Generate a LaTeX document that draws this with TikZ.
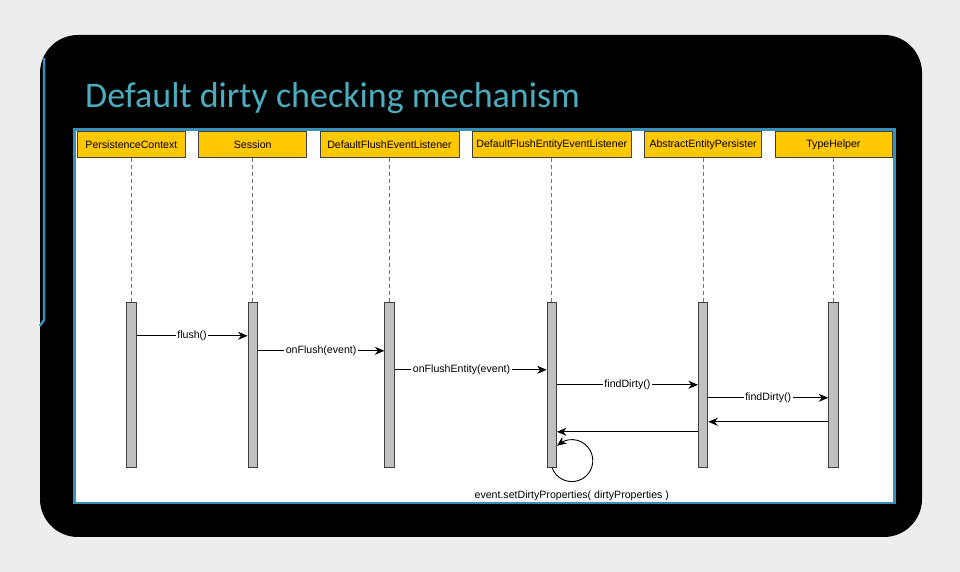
\documentclass[tikz,border=0pt]{standalone}
\usepackage{fontspec}
\setmainfont{Liberation Sans}
\newfontfamily\titlefont{Carlito}
\usetikzlibrary{positioning}
\usetikzlibrary{arrows.meta}
\usetikzlibrary{bending}
\definecolor{slidebg}{RGB}{237,237,237}
\definecolor{titleteal}{RGB}{75,172,190}
\definecolor{frameblue}{RGB}{58,143,183}
\definecolor{actoryellow}{RGB}{255,200,0}
\definecolor{bargray}{RGB}{192,192,192}

\tikzset{
  actor/.style={rectangle, draw=black!75, fill=actoryellow, line width=0.8pt,
    minimum height=26pt, inner sep=0pt, font=\fontsize{10.6}{12}\selectfont},
  lifeline/.style={draw=black!55, dash pattern=on 4pt off 3pt, line width=0.8pt},
  bar/.style={rectangle, draw=black!75, fill=bargray, line width=0.8pt,
    minimum width=9.5pt, minimum height=165pt, inner sep=0pt},
  msg/.style={draw=black, line width=0.9pt, -{Stealth[length=9.5pt,width=8pt,inset=3pt]}},
  lbl/.style={fill=white, inner sep=1.5pt, font=\fontsize{10.6}{12}\selectfont}
}

\begin{document}
\begin{tikzpicture}[x=1pt, y=1pt]

    % Slide background
    \fill[slidebg] (0,0) rectangle (960,572);
    \fill[black, rounded corners=38pt] (40,35) rectangle (922,537);
    \draw[frameblue, line width=2.5pt] (44,514) -- (44,252) -- (40,246);
    \node[anchor=base west, inner sep=0pt, text=titleteal,
      font=\titlefont\fontsize{36}{40}\selectfont] (title) at (85,464) {Default dirty checking mechanism};
    \draw[frameblue, line width=2.5pt, fill=white] (74.5,69) rectangle (894.3,442.5);

    % Define actors
    \node[actor, minimum width=108pt, anchor=north west] (pc) at (77,441) {PersistenceContext};
    \node[actor, minimum width=108pt, right=12.5pt of pc] (ses) {Session};
    \node[actor, minimum width=139pt, right=12.5pt of ses] (dfel) {DefaultFlushEventListener};
    \node[actor, minimum width=159pt, right=12.5pt of dfel] (dfeel) {DefaultFlushEntityEventListener};
    \node[actor, minimum width=117pt, right=12.5pt of dfeel] (aep) {AbstractEntityPersister};
    \node[actor, minimum width=117pt, right=12.5pt of aep] (th) {TypeHelper};

    % Activation bars
    \node[bar, below=144pt of pc] (pcbar) {};
    \node[bar, below=144pt of ses] (sesbar) {};
    \node[bar, below=144pt of dfel] (dfelbar) {};
    \node[bar, below=144pt of dfeel] (dfeelbar) {};
    \node[bar, below=144pt of aep] (aepbar) {};
    \node[bar, below=144pt of th] (thbar) {};

    % Lifelines
    \draw[lifeline] (pc) -- (pcbar);
    \draw[lifeline] (ses) -- (sesbar);
    \draw[lifeline] (dfel) -- (dfelbar);
    \draw[lifeline] (dfeel) -- (dfeelbar);
    \draw[lifeline] (aep) -- (aepbar);
    \draw[lifeline] (th) -- (thbar);

    % Messages
    \draw[msg] ([yshift=-34pt]pcbar.north east) -- node[lbl] {flush()} ([yshift=-34pt]sesbar.north west);
    \draw[msg] ([yshift=-49pt]sesbar.north east) -- node[lbl] {onFlush(event)} ([yshift=-49pt]dfelbar.north west);
    \draw[msg] ([yshift=-68pt]dfelbar.north east) -- node[lbl, pos=0.44] {onFlushEntity(event)} ([yshift=-68pt]dfeelbar.north west);
    \draw[msg] ([yshift=-83pt]dfeelbar.north east) -- node[lbl] {findDirty()} ([yshift=-83pt]aepbar.north west);
    \draw[msg] ([yshift=-96pt]aepbar.north east) -- node[lbl] {findDirty()} ([yshift=-96pt]thbar.north west);
    \draw[msg] ([yshift=-120pt]thbar.north west) -- ([yshift=-120pt]aepbar.north east);
    \draw[msg] ([yshift=-130pt]aepbar.north west) -- ([yshift=-130pt]dfeelbar.north east);

    % Self call
    \coordinate (loopc) at ([xshift=20pt, yshift=7pt]dfeelbar.south);
    \draw[msg] ([shift={(199:21pt)}]loopc) arc[start angle=199, end angle=495, radius=21pt];
    \node[lbl, fill=none, inner sep=0pt] (setdirty) at ([yshift=-35.5pt]loopc) {event.setDirtyProperties( dirtyProperties )};

\end{tikzpicture}
\end{document}
